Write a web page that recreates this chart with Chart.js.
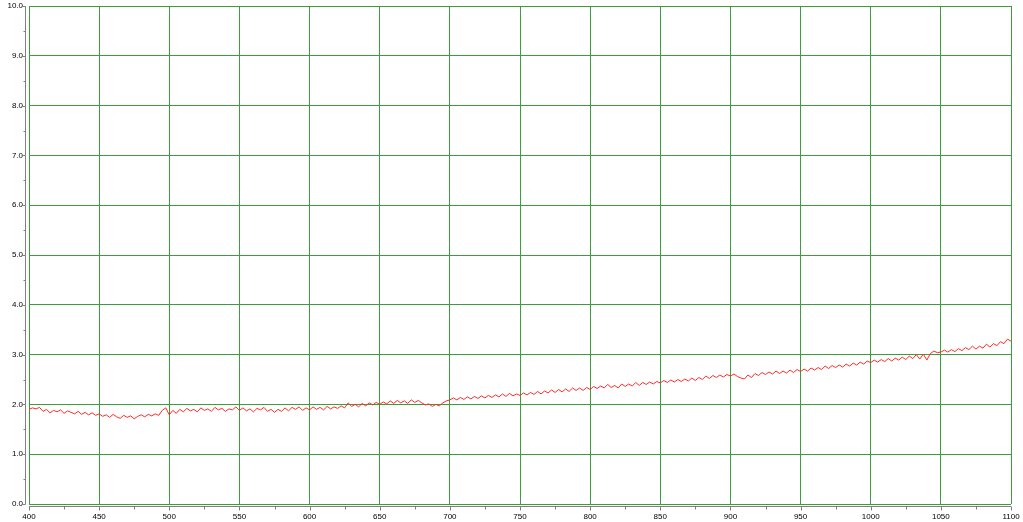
<!DOCTYPE html>
<html>
<head>
<meta charset="utf-8">
<script src="https://cdn.jsdelivr.net/npm/chart.js@4/dist/chart.umd.min.js"></script>
<style>
  html, body { margin: 0; padding: 0; background: #ffffff; }
  #wrap { width: 1023px; height: 522px; }
</style>
</head>
<body>
<div id="wrap"><canvas id="specChart" width="1023" height="522"></canvas></div>
<script>
// wavelength axis, one reading every 2.5 nm
const xStart = 400;
const xStep = 2.5;
const xTicks = [400, 450, 500, 550, 600, 650, 700, 750, 800, 850, 900, 950, 1000, 1050, 1100];
const yTicks = [0, 1, 2, 3, 4, 5, 6, 7, 8, 9, 10];

// values, 20 per row (50 nm)
const signal = [
  1.90, 1.93, 1.91, 1.94, 1.86, 1.90, 1.83, 1.88, 1.85, 1.89, 1.82, 1.87, 1.84, 1.81, 1.86, 1.80, 1.84, 1.79, 1.83, 1.78,
  1.81, 1.76, 1.79, 1.74, 1.80, 1.75, 1.72, 1.78, 1.74, 1.77, 1.71, 1.76, 1.79, 1.75, 1.80, 1.77, 1.81, 1.78, 1.88, 1.93,
  1.79, 1.88, 1.82, 1.90, 1.85, 1.92, 1.87, 1.90, 1.85, 1.93, 1.88, 1.91, 1.86, 1.94, 1.89, 1.92, 1.86, 1.91, 1.89, 1.95,
  1.88, 1.93, 1.87, 1.91, 1.85, 1.92, 1.89, 1.94, 1.86, 1.90, 1.84, 1.90, 1.86, 1.93, 1.87, 1.94, 1.90, 1.95, 1.88, 1.93,
  1.89, 1.95, 1.90, 1.94, 1.89, 1.96, 1.91, 1.95, 1.92, 1.97, 1.93, 2.03, 1.96, 2.00, 1.95, 2.02, 1.97, 2.03, 1.99, 2.04,
  2.00, 2.05, 2.01, 2.07, 2.02, 2.08, 2.03, 2.07, 2.02, 2.09, 2.04, 2.08, 2.03, 1.99, 2.01, 1.96, 2.00, 1.97, 2.03, 2.07,
  2.09, 2.13, 2.09, 2.14, 2.10, 2.15, 2.11, 2.16, 2.12, 2.17, 2.13, 2.18, 2.14, 2.19, 2.15, 2.21, 2.16, 2.22, 2.17, 2.21,
  2.18, 2.23, 2.19, 2.24, 2.20, 2.26, 2.21, 2.27, 2.23, 2.29, 2.24, 2.30, 2.25, 2.31, 2.26, 2.33, 2.28, 2.33, 2.28, 2.34,
  2.30, 2.36, 2.32, 2.37, 2.33, 2.40, 2.34, 2.38, 2.33, 2.41, 2.36, 2.41, 2.37, 2.44, 2.38, 2.44, 2.40, 2.45, 2.41, 2.46,
  2.43, 2.48, 2.44, 2.49, 2.45, 2.50, 2.46, 2.51, 2.47, 2.53, 2.48, 2.54, 2.50, 2.57, 2.52, 2.58, 2.54, 2.59, 2.55, 2.60,
  2.57, 2.61, 2.56, 2.53, 2.51, 2.59, 2.54, 2.62, 2.58, 2.64, 2.60, 2.65, 2.61, 2.67, 2.62, 2.67, 2.63, 2.69, 2.64, 2.70,
  2.66, 2.71, 2.67, 2.73, 2.69, 2.74, 2.70, 2.77, 2.72, 2.78, 2.74, 2.79, 2.75, 2.81, 2.77, 2.83, 2.79, 2.85, 2.81, 2.87,
  2.84, 2.89, 2.85, 2.90, 2.86, 2.92, 2.87, 2.93, 2.89, 2.95, 2.90, 2.97, 2.92, 3.00, 2.91, 3.01, 2.89, 3.02, 3.07, 3.04,
  3.05, 3.09, 3.05, 3.10, 3.06, 3.12, 3.08, 3.14, 3.10, 3.17, 3.11, 3.17, 3.13, 3.21, 3.15, 3.22, 3.18, 3.26, 3.22, 3.31,
  3.27
];

const points = signal.map((v, i) => ({ x: xStart + i * xStep, y: v }));

// gray axis lines with major + minor tick marks, offset from the plot box
const axisPlugin = {
  id: 'axisPlugin',
  afterDraw(chart) {
    const ctx = chart.ctx;
    const area = chart.chartArea;
    const xs = chart.scales.x;
    const ys = chart.scales.y;
    const axX = area.left - 3.5;
    const axY = area.bottom + 2.5;
    ctx.save();
    ctx.strokeStyle = '#808080';
    ctx.lineWidth = 1;
    ctx.beginPath();
    ctx.moveTo(axX, area.top);
    ctx.lineTo(axX, area.bottom + 0.5);
    ctx.moveTo(area.left, axY);
    ctx.lineTo(area.right, axY);
    for (let v = 0; v <= 10; v += 0.5) {
      const py = Math.round(ys.getPixelForValue(v)) + 0.5;
      const len = (v % 1 === 0) ? 4 : 2;
      ctx.moveTo(axX - len, py);
      ctx.lineTo(axX, py);
    }
    for (let v = 400; v <= 1100; v += 25) {
      const px = Math.round(xs.getPixelForValue(v)) + 0.5;
      const len = (v % 50 === 0) ? 4 : 3;
      ctx.moveTo(px, axY);
      ctx.lineTo(px, axY + len);
    }
    ctx.stroke();
    ctx.restore();
  }
};

const gridGreen = '#3d9d3d';

new Chart(document.getElementById('specChart'), {
  type: 'line',
  data: {
    datasets: [{
      data: points,
      borderColor: '#ff2a2a',
      borderWidth: 1,
      pointRadius: 0,
      tension: 0,
      fill: false
    }]
  },
  options: {
    responsive: false,
    animation: false,
    devicePixelRatio: 1,
    layout: { padding: { top: 6, right: 12, left: 0, bottom: 0 } },
    plugins: { legend: { display: false }, tooltip: { enabled: false } },
    scales: {
      x: {
        type: 'linear',
        min: 400,
        max: 1100,
        afterFit(scale) {
          scale.height = 18;
          scale.paddingLeft = 0;
          scale.paddingRight = 0;
        },
        afterBuildTicks(scale) { scale.ticks = xTicks.map(v => ({ value: v })); },
        grid: { color: gridGreen, lineWidth: 1, drawTicks: false },
        border: { display: false },
        ticks: {
          autoSkip: false,
          maxRotation: 0,
          padding: 8,
          color: '#000000',
          font: { family: 'Liberation Sans', size: 8 },
          callback: v => String(v)
        }
      },
      y: {
        min: 0,
        max: 10,
        afterFit(scale) {
          scale.width = 29;
          scale.paddingTop = 0;
          scale.paddingBottom = 0;
        },
        afterBuildTicks(scale) { scale.ticks = yTicks.map(v => ({ value: v })); },
        grid: { color: gridGreen, lineWidth: 1, drawTicks: false },
        border: { display: false },
        ticks: {
          padding: 6,
          color: '#000000',
          font: { family: 'Liberation Sans', size: 8 },
          callback: v => Number(v).toFixed(1)
        }
      }
    }
  },
  plugins: [axisPlugin]
});
</script>
</body>
</html>
